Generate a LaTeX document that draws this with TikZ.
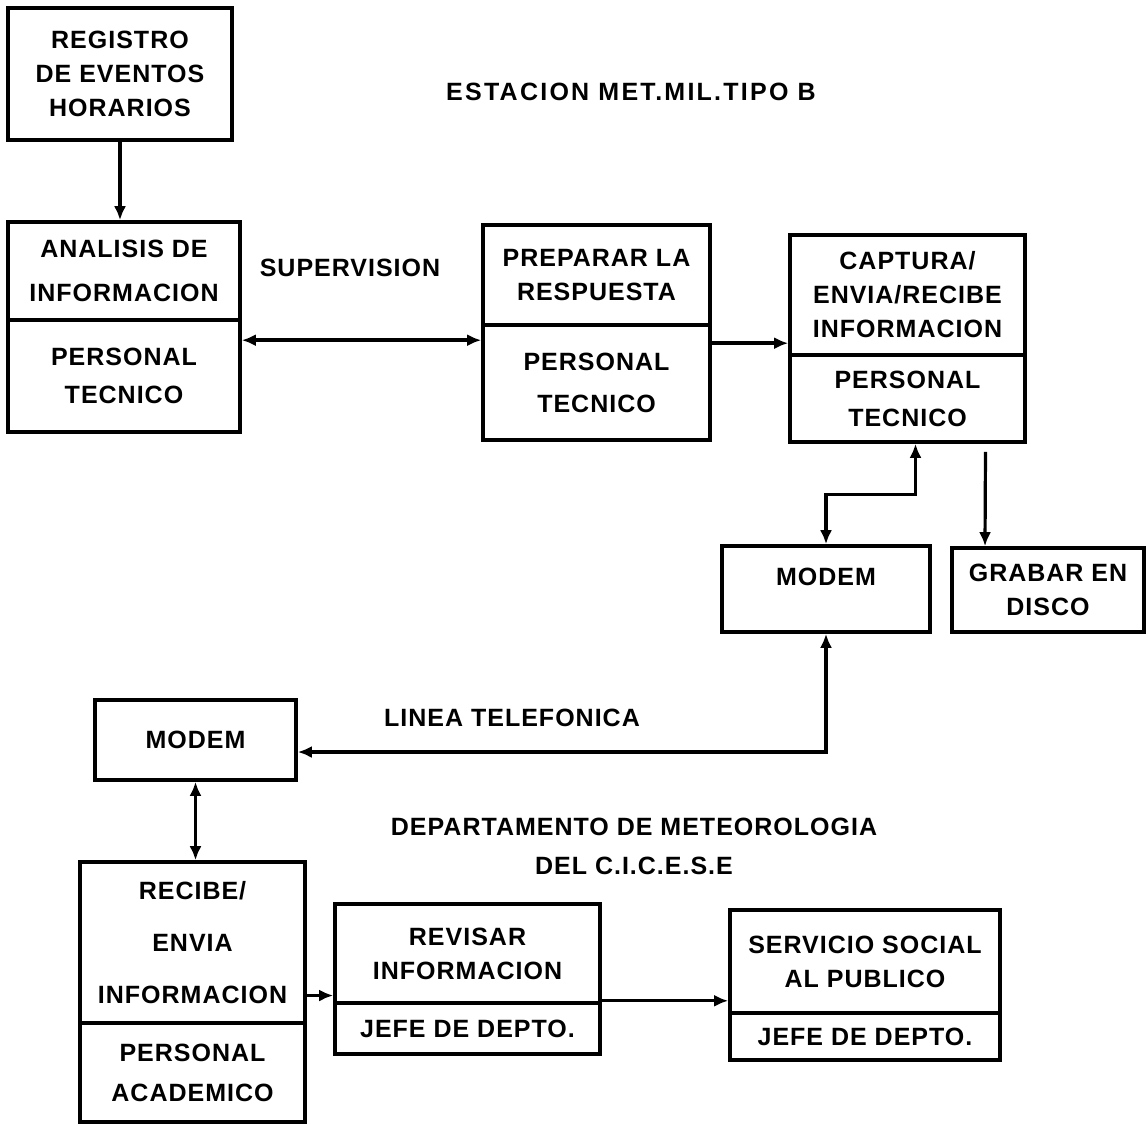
\documentclass[tikz,border=0pt]{standalone}
\usepackage{fontspec}
\setmainfont{Liberation Sans}[LetterSpace=4]
\usetikzlibrary{arrows.meta}

\tikzset{
  caja/.style={draw, line width=1.8pt, inner sep=0pt, align=center,
    font=\bfseries\fontsize{12.5}{17}\selectfont},
  texto/.style={align=center, font=\bfseries\fontsize{12.5}{17}\selectfont},
  flecha/.style={line width=1.6pt, >={Latex[length=7pt,width=6pt]}}
}

\begin{document}
\begin{tikzpicture}[x=0.5pt, y=-0.5pt]
      \useasboundingbox (0,0) rectangle (1148,1126);

      % estacion
      \node[texto, font=\bfseries\fontsize{12.5}{17}\selectfont\addfontfeature{LetterSpace=9}] (titulo) at (631,92) {ESTACION MET.MIL.TIPO B};
      \node[caja, minimum width=112pt, minimum height=66pt] (1) at (120,74) {REGISTRO\\DE EVENTOS\\HORARIOS};
      \node[caja, minimum width=116pt, minimum height=49pt] (2a) at (124,271) {ANALISIS DE\\[5pt]INFORMACION};
      \node[caja, minimum width=116pt, minimum height=56pt] (2b) at (124,376) {PERSONAL\\[2pt]TECNICO};
      \node[caja, minimum width=113.5pt, minimum height=50pt] (3a) at (596.5,275) {PREPARAR LA\\RESPUESTA};
      \node[caja, minimum width=113.5pt, minimum height=57.5pt] (3b) at (596.5,382.5) {PERSONAL\\[4pt]TECNICO};
      \node[caja, minimum width=117.5pt, minimum height=60pt] (4a) at (907.5,295) {CAPTURA/\\ENVIA/RECIBE\\INFORMACION};
      \node[caja, minimum width=117.5pt, minimum height=43.5pt] (4b) at (907.5,398.5) {PERSONAL\\[2pt]TECNICO};
      \node[caja, minimum width=104pt, minimum height=43pt, text depth=12pt] (5) at (826,589) {MODEM};
      \node[caja, minimum width=96pt, minimum height=42pt] (6) at (1048,590) {GRABAR EN\\DISCO};
      \node[texto] (sup) at (350,268) {SUPERVISION};

      % departamento
      \node[texto] (linea) at (512,718) {LINEA TELEFONICA};
      \node[caja, minimum width=100.5pt, minimum height=40pt] (7) at (195.5,740) {MODEM};
      \node[texto] (depto) at (634,846) {DEPARTAMENTO DE METEOROLOGIA\\[2.5pt]DEL C.I.C.E.S.E};
      \node[caja, minimum width=112.5pt, minimum height=80.5pt] (8a) at (192.5,942.5) {RECIBE/\\[9pt]ENVIA\\[9pt]INFORMACION};
      \node[caja, minimum width=112.5pt, minimum height=49.5pt] (8b) at (192.5,1072.5) {PERSONAL\\[3pt]ACADEMICO};
      \node[caja, minimum width=132.5pt, minimum height=49.5pt] (9a) at (467.5,953.5) {REVISAR\\INFORMACION};
      \node[caja, minimum width=132.5pt, minimum height=25.5pt] (9b) at (467.5,1028.5) {JEFE DE DEPTO.};
      \node[caja, minimum width=135pt, minimum height=51.5pt] (10a) at (865,961.5) {SERVICIO SOCIAL\\AL PUBLICO};
      \node[caja, minimum width=135pt, minimum height=23.5pt] (10b) at (865,1036.5) {JEFE DE DEPTO.};

      \draw[flecha, ->] (1.south) -- (1.south |- 2a.north);
      \draw[flecha, <->, line width=2pt] ([yshift=-11pt]2b.north east) -- ([yshift=-11pt]2b.north east -| 3b.west);
      \draw[flecha, ->, line width=2pt] ([yshift=-10pt]3b.north east) -- ([yshift=-10pt]3b.north east -| 4a.west);
      \draw[flecha, <->] (5.north) -- ++(0,-50) -| ([xshift=4pt]4b.south);
      \draw[flecha, ->] ([xshift=39pt, yshift=-4pt]4b.south) -- ([xshift=-31.5pt]6.north);
      \draw[flecha, <->] (5.south) |- ([yshift=-6pt]7.east);
      \draw[flecha, <->] (7.south) -- (7.south |- 8a.north);
      \draw[flecha, ->] ([yshift=-26.5pt]8a.east) -- ([yshift=-26.5pt]8a.east -| 9a.west);
      \draw[flecha, ->] ([yshift=2pt]9a.south east) -- ([yshift=2pt]9a.south east -| 10a.west);
    \end{tikzpicture}
\end{document}
